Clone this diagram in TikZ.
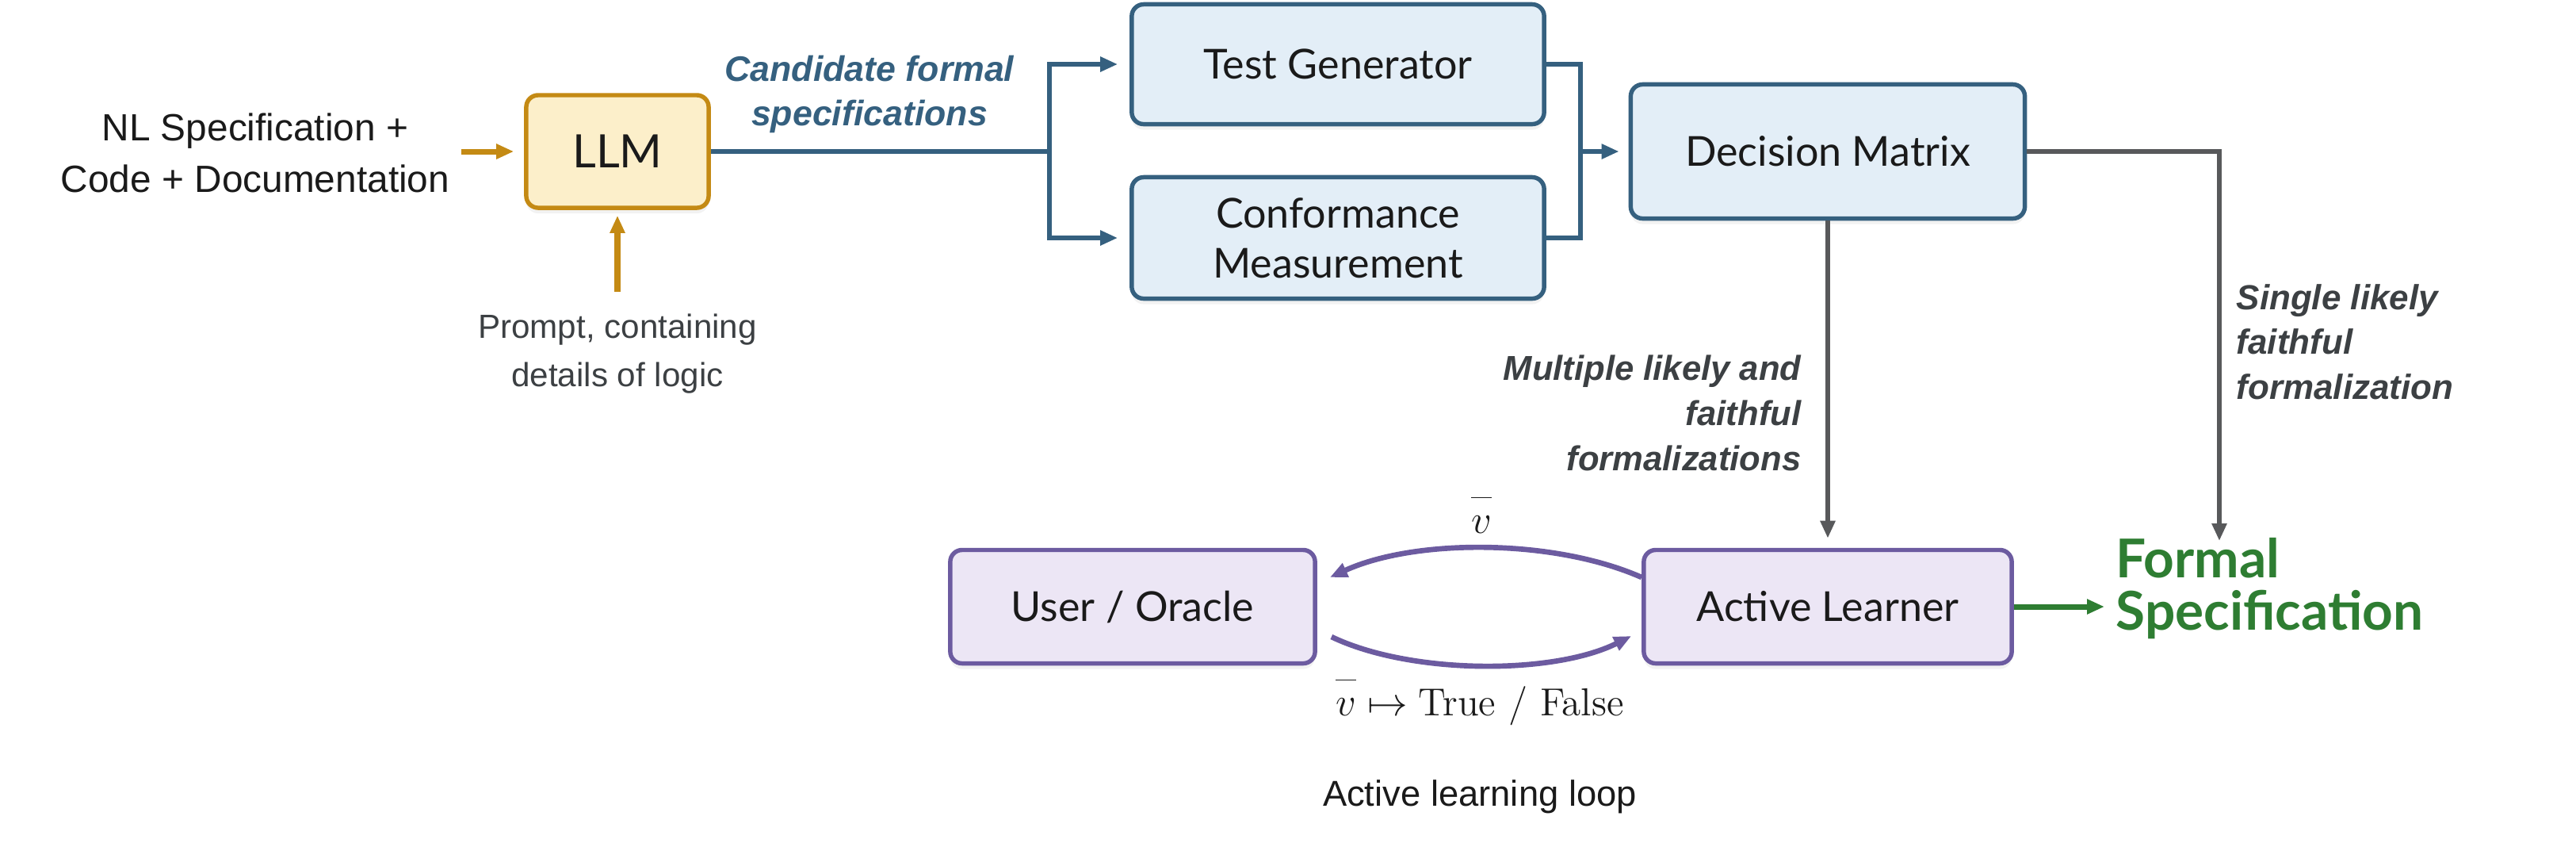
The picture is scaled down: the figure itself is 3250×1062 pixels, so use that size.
\documentclass[tikz,border=0pt]{standalone}
\usepackage[no-math]{fontspec}
\setmainfont{Liberation Sans}
\newfontfamily\lato{Lato}
\newfontfamily\lmr{Latin Modern Roman}
\usetikzlibrary{arrows.meta,calc,shadows}
\definecolor{goldc}{HTML}{C48A14}
\definecolor{goldf}{HTML}{FCEFCA}
\definecolor{bluec}{HTML}{35607F}
\definecolor{bluef}{HTML}{E3EEF7}
\definecolor{purc}{HTML}{6C5BA0}
\definecolor{purf}{HTML}{ECE6F5}
\definecolor{grayc}{HTML}{58595B}
\definecolor{greenc}{HTML}{2E7D32}
\definecolor{txtg}{HTML}{3C4043}
\definecolor{txtk}{HTML}{1A1A1A}
\newcommand{\vbarred}{\overline{\rule{0pt}{0.8em}v}}
\begin{document}
\begin{tikzpicture}[x=0.01cm,y=-0.01cm,
  box/.style={draw, rounded corners=0.15cm, line width=1.55pt, inner sep=0pt, align=center,
    text=txtk, font=\lato\fontsize{14.8}{18}\selectfont,
    drop shadow={opacity=0.10, shadow xshift=0pt, shadow yshift=-2pt}},
  arr/.style={-{Triangle[length=0.22cm,width=0.18cm]}},
  bluel/.style={draw=bluec, line width=1.9pt},
  grayl/.style={draw=grayc, line width=1.7pt},
  lbl/.style={inner sep=0pt}]
\useasboundingbox (0,0) rectangle (3250,1062);

% nodes
\node[box, draw=goldc, fill=goldf, minimum width=2.3cm, minimum height=1.42cm,
  font=\lato\fontsize{16.5}{19}\selectfont] (LLM) at (779,191) {LLM};
\node[box, draw=bluec, fill=bluef, minimum width=5.2cm, minimum height=1.51cm] (TG) at (1688,81) {Test Generator};
\node[box, draw=bluec, fill=bluef, minimum width=5.2cm, minimum height=1.53cm] (CM) at (1688,300) {Conformance\\Measurement};
\node[box, draw=bluec, fill=bluef, minimum width=4.97cm, minimum height=1.69cm] (DM) at (2306,191) {Decision Matrix};
\node[box, draw=purc, fill=purf, minimum width=4.6cm, minimum height=1.43cm] (UO) at (1429,765) {User / Oracle};
\node[box, draw=purc, fill=purf, minimum width=4.64cm, minimum height=1.43cm] (AL) at (2306,765) {Active Learner};

\node[lbl, align=left, anchor=west, text=greenc, font=\lato\bfseries\fontsize{19.2}{18.6}\selectfont] (fs) at (2669,742) {Formal\\Specification};

% text labels
\node[lbl, align=center, text=txtk, font=\fontsize{13.6}{18.6}\selectfont] (nl) at (322,193) {NL Specification +\\Code + Documentation};
\node[lbl, align=center, text=txtg, font=\fontsize{12}{17.2}\selectfont] (pr) at (779,446) {Prompt, containing\\details of logic};
\node[lbl, align=center, text=bluec, font=\bfseries\itshape\fontsize{12.7}{15.8}\selectfont] (cand) at (1097,119) {Candidate formal\\specifications};
\node[lbl, align=right, anchor=east, text=txtg, font=\bfseries\itshape\fontsize{12.4}{16.1}\selectfont] (mult) at (2273,521) {Multiple likely and\\faithful\\formalizations};
\node[lbl, align=left, anchor=west, text=txtg, font=\bfseries\itshape\fontsize{12.5}{16.1}\selectfont] (sing) at (2821,431) {Single likely\\faithful\\formalization};
\node[lbl, anchor=base, text=txtk, font=\fontsize{14}{16}\selectfont] (vq) at (1869,672) {$\vbarred$};
\node[lbl, anchor=base, text=txtk, font=\fontsize{14}{16}\selectfont] (va) at (1867,902) {$\vbarred\mapsto$ {\lmr True / False}};
\node[lbl, text=txtk, font=\fontsize{12.9}{16}\selectfont] (loop) at (1867,1005) {Active learning loop};

% coordinates
\coordinate (nlin) at (582,191);
\coordinate (prin) at (779,368);
\coordinate (split) at (1324,191);
\coordinate (jn) at (1994,191);
\coordinate (fstop) at (2800,682);

% gold inputs
\draw[draw=goldc, line width=2pt, arr, shorten >=0.13cm] (nlin) -- (LLM.west);
\draw[draw=goldc, line width=2pt, arr, shorten >=0.07cm] (prin) -- (LLM.south);

% blue flow
\draw[bluel] (LLM.east) -- (split);
\draw[bluel, arr, shorten >=0.15cm] (split) |- (TG.west);
\draw[bluel, arr, shorten >=0.15cm] (split) |- (CM.west);
\draw[bluel] (TG.east) -| (jn) |- (CM.east);
\draw[bluel, arr, shorten >=0.12cm] (jn) -- (DM.west);

% gray outputs
\draw[grayl, arr, shorten >=0.12cm] (DM.south) -- (AL.north);
\draw[grayl, arr] (DM.east) -| (fstop);

% green result
\draw[draw=greenc, line width=2pt, arr, shorten >=0.14cm] (AL.east) -- (AL.east -| fs.west);

% loop curves
\draw[draw=purc, line width=1.9pt, arr]
  ($(AL.west)+(0,-37)$) .. controls (1960,679) and (1785,679) .. ($(UO.east)+(16,-37)$);
\draw[draw=purc, line width=1.9pt, arr]
  ($(UO.east)+(18,38)$) .. controls (1780,851) and (1960,851) .. ($(AL.west)+(-13,37)$);
\end{tikzpicture}
\end{document}
